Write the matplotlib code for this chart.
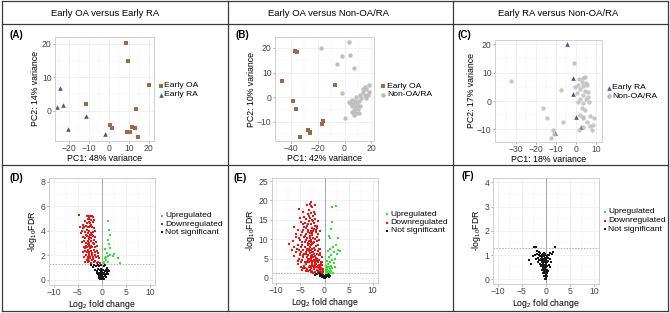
import matplotlib
matplotlib.use('Agg')
import matplotlib.pyplot as plt
from matplotlib.lines import Line2D

plt.rcParams['font.family'] = ['Liberation Sans', 'DejaVu Sans']
plt.rcParams['mathtext.fontset'] = 'custom'
plt.rcParams['mathtext.rm'] = 'Liberation Sans'
plt.rcParams['mathtext.it'] = 'Liberation Sans:italic'

# ---------------- DATA ----------------
headers = ["Early OA versus Early RA", "Early OA versus Non-OA/RA", "Early RA versus Non-OA/RA"]
panel_labels = ["(A)", "(B)", "(C)", "(D)", "(E)", "(F)"]
pca_xlabels = ["PC1: 48% variance", "PC1: 42% variance", "PC1: 18% variance"]
pca_ylabels = ["PC2: 14% variance", "PC2: 10% variance", "PC2: 17% variance"]
volcano_legend = ["Upregulated", "Downregulated", "Not significant"]

# Panel A
a_oa_x = [8.7, 9.7, 20.2, -11.5, 13.7, 0.5, 1.8, 11.7, 13.2, 9.0, 10.7, 14.8]
a_oa_y = [20.4, 15.0, 7.8, 2.0, 0.5, -4.3, -5.0, -4.7, -5.1, -6.4, -6.2, -7.7]
a_ra_x = [-24.3, -26.0, -23.0, -11.5, -20.2, -1.8]
a_ra_y = [6.8, 1.3, 1.9, -1.6, -5.4, -6.9]

# Panel B
b_oa_x = [-36.8, -35.6, -46.7, -7.4, -38.3, -36.3, -16.0, -16.8, -26.9, -25.7, -25.4, -32.8]
b_oa_y = [18.9, 18.5, 6.6, 5.0, -1.4, -4.7, -9.5, -10.9, -13.2, -13.9, -14.6, -15.9]
b_non_x = [-17.5, 3.2, -1.5, 4.2, -5.9, 6.9, -1.7, 0.5,
           18.0, 15.1, 16.3, 13.8, 18.0, 11.4, 15.1, 17.5, 8.9, 12.6, 5.2, 7.7, 10.9, 4.0,
           6.4, 9.4, 5.2, 8.4, 11.4, 6.9, 10.1, 5.2, 8.4, 7.2, 10.4, 3.0, 13.8, 15.8]
b_non_y = [19.9, 22.2, 16.8, 17.3, 13.5, 11.9, 1.6, -8.2,
           5.0, 4.1, 3.2, 2.3, 2.3, 0.9, 0.9, 0.9, 0.3, -0.4, -1.1, -1.5, -1.4, -2.2,
           -2.7, -2.7, -3.5, -4.1, -3.5, -5.1, -4.9, -5.8, -6.2, -7.2, -6.5, -1.8, 3.2, -0.4]

# Panel C
c_ra_x = [-4.3, -1.7, 0.0, 2.5, -10.5, -1.7]
c_ra_y = [20.0, 8.2, -5.5, -9.0, -11.1, 2.5]
c_non_x = [-32.7, -0.8, -7.7, -16.7, -14.7, -6.3, -11.7, -11.0, -12.5,
           1.7, 3.7, 4.5, 2.8, 5.0, 1.2, 3.3, 5.3, -0.5, 2.0, 4.5, 6.2, 0.3, 3.7, 6.2, 2.0,
           5.0, 1.2, 3.7, 6.7, 2.8, 4.5, 2.0, 3.7, 7.0, 9.0, 5.3, 3.3, 1.7, 7.0, 8.3, 7.8, 3.7]
c_non_y = [7.2, 13.5, 3.9, -2.6, -5.9, -7.3, -10.2, -11.6, -13.1,
           7.6, 8.2, 8.6, 6.8, 6.4, 5.6, 5.3, 5.6, 4.8, 4.1, 3.6, 3.3, 2.7, 2.1, 1.5, 0.9,
           0.6, -0.2, -0.8, -0.2, -2.6, -3.2, -4.9, -5.5, -5.3, -5.9, -7.3, -9.0, -10.2, -8.8, -8.4, -10.2, -6.1]

# Panel D (volcano, Early OA vs Early RA)
d_down = [(-4.7,5.3),(-3.2,5.2),(-2.9,5.25),(-2.6,5.1),(-2.4,5.2),(-2.1,5.2),(-1.8,5.15),(-2.7,4.95),(-3.0,5.0),
          (-3.5,4.8),(-2.2,4.85),(-1.9,4.7),(-2.5,4.6),(-3.1,4.6),(-2.8,4.7),(-1.6,4.9),
          (-4.5,4.3),(-4.0,4.25),(-3.7,4.3),(-3.3,4.4),(-3.0,4.3),(-2.7,4.35),(-2.4,4.4),(-2.0,4.3),(-1.7,4.2),(-3.9,4.5),(-2.2,4.5),
          (-4.2,4.0),(-3.6,3.9),(-3.2,4.05),(-2.9,3.85),(-2.6,4.0),(-2.3,3.8),(-1.9,3.9),(-1.5,4.0),(-3.4,3.7),(-4.4,3.8),
          (-3.9,3.5),(-3.5,3.45),(-3.1,3.6),(-2.8,3.5),(-2.5,3.65),(-2.2,3.4),(-1.8,3.55),(-1.4,3.5),(-2.0,3.7),(-2.7,3.3),
          (-4.1,3.1),(-3.7,3.2),(-3.3,3.05),(-3.0,3.2),(-2.6,3.0),(-2.3,3.15),(-1.9,3.05),(-1.6,3.25),(-1.2,3.1),(-2.9,2.95),
          (-3.8,2.7),(-3.4,2.8),(-3.1,2.65),(-2.8,2.75),(-2.5,2.6),(-2.2,2.8),(-2.0,2.65),(-1.7,2.9),(-1.4,2.7),(-1.0,2.8),(-2.6,2.85),(-3.6,2.6),
          (-3.9,2.3),(-3.5,2.4),(-3.2,2.25),(-2.9,2.45),(-2.6,2.3),(-2.3,2.4),(-2.0,2.2),(-1.7,2.45),(-1.4,2.3),(-1.1,2.4),(-0.8,2.2),(-2.8,2.2),
          (-3.7,1.9),(-3.3,2.0),(-3.0,1.85),(-2.7,2.05),(-2.4,1.9),(-2.1,2.0),(-1.8,1.85),(-1.5,2.05),(-1.2,1.9),(-0.9,1.95),(-0.6,1.8),(-2.5,1.8),
          (-3.6,1.5),(-3.2,1.6),(-2.9,1.45),(-2.6,1.55),(-2.3,1.4),(-2.0,1.6),(-1.7,1.45),(-1.4,1.55),(-1.1,1.4),(-0.8,1.5),(-0.5,1.4),(-3.0,1.7),(-1.9,1.7)]
d_up = [(1.15,4.8),(1.5,4.1),(1.7,3.65),(1.2,3.25),(1.4,2.9),(0.7,2.5),(1.7,2.6),(1.1,2.2),(1.15,1.95),(2.2,1.95),
        (1.6,2.0),(0.6,1.8),(3.3,1.75),(0.35,1.5),(0.9,1.6),(3.7,1.4),(0.5,1.35),(1.3,1.45),(2.5,2.1),(0.8,1.9)]
d_ns = [(-2.3,1.25),(-1.9,1.05),(-1.6,1.2),(-1.2,1.1),(-0.9,1.25),(-0.6,1.15),(-0.3,1.2),(0.4,1.1),(0.7,1.2),(1.0,1.0),
        (0.9,0.8),(1.3,0.85),(1.1,0.65),(0.6,0.7),(0.3,0.8),(-0.2,0.9),(-0.5,0.85),(-0.8,0.9),(-1.1,0.75),(-1.4,0.8),
        (-0.7,0.6),(-0.4,0.55),(-0.1,0.6),(0.2,0.5),(0.5,0.45),(0.8,0.5),(-0.9,0.45),(-0.6,0.35),(-0.3,0.3),(0.0,0.35),
        (0.3,0.25),(0.6,0.3),(-0.2,0.15),(0.1,0.1),(0.0,0.05),(-0.1,0.2),(0.2,0.15),(-0.4,0.1),(0.4,0.1),(-0.5,0.45),
        (-0.2,0.4),(0.1,0.45),(0.0,0.7),(-0.3,0.65),(0.35,0.6),(1.5,0.7),(1.2,0.45),(-1.0,0.55),(0.9,0.25),(-0.7,0.2)]

# Panel E (volcano, Early OA vs Non-OA/RA)
e_down = [(-2.7,19.5),(-2.9,18.6),(-2.5,18.2),(-5.2,17.9),(-3.2,17.5),(-2.2,17.0),(-2.8,16.8),
          (-3.5,16.5),(-4.3,15.8),(-2.4,16.0),(-3.0,15.5),(-1.9,15.3),(-3.8,15.2),(-2.6,15.0),
          (-4.8,14.5),(-3.3,14.6),(-2.1,14.2),(-2.9,13.8),(-3.7,13.5),(-1.6,13.3),(-4.2,13.2),(-2.5,13.0),
          (-5.6,12.3),(-4.5,12.5),(-3.5,12.4),(-2.8,12.1),(-2.2,12.6),(-1.8,11.8),(-3.1,11.5),(-3.9,11.3),(-2.5,11.2),(-4.9,11.0),(-1.4,11.4),
          (-6.0,10.5),(-4.3,10.6),(-3.6,10.2),(-3.0,10.8),(-2.4,10.3),(-1.9,10.0),(-3.3,9.6),(-2.7,9.4),(-4.0,9.3),(-5.0,9.8),(-1.5,9.5),(-2.1,9.2),(-3.8,9.9),
          (-7.3,8.8),(-6.3,8.0),(-5.5,8.5),(-4.6,8.6),(-4.1,7.9),(-3.5,8.4),(-3.0,8.1),(-2.6,8.7),(-2.2,7.8),(-1.7,8.3),(-1.2,7.6),(-3.2,7.4),(-2.8,7.2),(-4.4,7.3),(-1.9,7.1),(-3.7,7.6),
          (-5.9,6.6),(-5.1,5.9),(-4.8,6.8),(-4.2,6.2),(-3.8,6.7),(-3.4,5.8),(-3.0,6.4),(-2.6,6.0),(-2.3,6.8),(-2.0,5.6),(-1.6,6.3),(-1.2,5.9),(-0.9,6.5),(-3.6,5.3),(-2.8,5.2),(-4.5,5.5),(-1.8,5.1),(-2.5,6.6),
          (-5.5,4.4),(-4.6,4.7),(-4.0,4.2),(-3.5,4.8),(-3.2,4.0),(-2.9,4.5),(-2.6,3.8),(-2.3,4.3),(-2.0,3.6),(-1.7,4.6),(-1.4,4.0),(-1.1,3.4),(-0.8,4.2),(-3.8,3.5),(-3.0,3.2),(-2.4,3.0),(-1.9,3.1),(-1.3,3.0),(-0.6,3.3),(-4.3,3.1),(-2.7,4.9),
          (-4.1,2.5),(-3.6,2.2),(-3.3,2.8),(-3.0,2.0),(-2.7,2.6),(-2.5,1.8),(-2.2,2.4),(-2.0,1.6),(-1.8,2.8),(-1.6,2.1),(-1.4,1.5),(-1.2,2.5),(-1.0,1.9),(-0.8,1.5),(-0.6,2.3),(-0.4,1.7),(-2.9,1.5),(-3.4,1.7),(-2.3,1.4),(-1.5,2.9),
          (-3.4,11.9),(-2.6,11.6),(-3.1,10.4),(-2.8,9.9),(-3.5,9.1),(-2.3,8.9),(-3.3,8.7),(-2.9,8.4),(-2.5,7.5),(-3.6,7.1),(-2.1,6.3),(-3.2,6.9),(-2.7,5.6),(-3.9,6.1),(-2.4,5.4),(-3.1,5.0),(-2.2,4.6),(-3.4,4.4),(-1.9,4.1),(-2.6,3.4),(-3.7,4.0),(-2.1,2.7),(-2.8,3.0),(-1.7,3.5),(-1.1,2.8),(-0.9,2.1),(-1.3,1.8),(-0.5,1.4),(-4.0,10.9),(-3.9,12.8),(-2.3,14.8),(-3.5,13.9),(-1.7,12.4),(-4.6,9.4),(-5.2,7.2),(-1.4,6.9),(-1.1,4.7),(-0.7,2.7),
          (-5.4,3.6),(-4.9,2.9),(-4.6,2.1),(-4.4,5.9),(-5.0,6.2),(-5.7,7.6),(-6.6,9.6),(-5.3,10.2),(-4.7,11.9),(-4.1,14.1),(-4.4,16.9),(-3.6,18.9),(-1.3,8.6),(-0.9,7.4),(-0.6,5.5),(-0.5,4.1),(-0.9,5.9),(-1.2,9.9),(-1.6,10.7),(-1.0,12.1),(-1.3,14.8),(-1.9,16.4),(-2.0,18.8),(-3.0,19.0),(-0.4,2.2),(-0.3,1.5),(-0.7,3.6),(-1.6,4.4),(-1.0,3.0),(-4.9,8.0),(-4.8,4.0),(-4.4,2.6),(-3.9,1.9),(-5.2,5.0),(-6.3,5.7),(-6.8,7.1),(-5.9,11.4),(-6.4,13.1),(-5.0,15.6),(-3.3,16.0),(-1.5,4.9),(-2.0,13.5),(-2.4,12.0),(-1.5,12.9),(-4.5,13.8)]
e_up = [(1.6,18.4),(2.4,18.6),(1.5,14.5),(1.3,12.7),(0.9,10.9),(1.1,10.2),(2.7,10.2),(2.3,8.5),(1.7,8.0),(2.9,7.3),
        (1.2,7.6),(0.8,6.9),(1.9,6.6),(2.5,6.2),(1.4,5.8),(0.9,5.3),(2.1,5.0),(1.6,4.6),(0.6,4.4),(1.1,4.0),
        (2.0,3.9),(0.7,3.5),(1.3,3.2),(0.4,3.0),(0.9,2.8),(1.6,2.6),(0.5,2.4),(1.1,2.2),(0.3,2.0),(0.7,1.9),
        (1.4,1.7),(0.4,1.6),(0.9,1.5),(1.7,1.4),(0.6,1.35),(2.2,2.8),(1.2,1.4),(3.2,7.0),(0.5,2.9)]
e_ns = [(-1.2,1.2),(-0.9,1.0),(-0.6,1.1),(-0.4,0.8),(-0.2,0.6),(0.0,0.4),(0.2,0.5),(0.4,0.8),(0.6,1.0),(0.8,1.2),
        (-0.7,0.7),(-0.1,0.2),(0.1,0.1),(-0.3,0.3),(0.3,0.3),(0.5,0.6),(-0.5,0.5),(-0.8,0.4),(0.7,0.5),(-1.5,0.9),
        (1.0,0.8),(-1.0,0.6),(0.0,0.0),(-0.2,0.1),(0.2,0.2),(0.9,0.3),(-0.6,0.2),(1.2,0.6),(-1.8,1.1),(-2.0,0.8)]

# Panel F (volcano, Early RA vs Non-OA/RA)
f_ns = [(-2.5,1.32),(-2.1,1.32),(1.8,1.32),(-3.2,0.65),(-3.5,0.78),(-2.6,0.95),(-1.9,1.05),(-1.5,1.0),(-1.2,1.08),(-0.9,0.98),
        (-0.6,1.05),(-0.3,1.0),(0.2,0.95),(0.6,1.02),(0.9,1.1),(1.2,1.05),(0.8,0.85),(1.0,0.7),(-2.0,0.85),(-1.7,0.9),
        (-1.4,0.8),(-1.1,0.85),(-0.8,0.9),(-0.5,0.85),(-0.2,0.88),(0.1,0.8),(0.4,0.75),(0.6,0.6),(-1.6,0.7),(-1.2,0.65),
        (-0.9,0.7),(-0.6,0.72),(-0.3,0.7),(0.0,0.65),(0.3,0.55),(-1.0,0.55),(-0.7,0.5),(-0.4,0.55),(-0.1,0.5),(0.2,0.4),
        (0.4,0.35),(-0.8,0.4),(-0.5,0.38),(-0.2,0.4),(0.1,0.3),(-0.6,0.25),(-0.3,0.25),(0.0,0.2),(0.2,0.15),(-0.4,0.12),
        (-0.1,0.1),(0.05,0.05),(-0.2,0.02),(0.1,0.0),(-0.5,0.6),(-0.3,0.45),(-0.15,0.35),(-0.25,0.15),(0.15,0.25),(-0.45,0.3),
        (-0.7,0.8),(-0.4,0.95),(-0.1,0.75),(0.25,0.7),(-0.55,0.65),(-0.35,0.8),(-0.05,0.58),(-0.65,0.45),(-1.3,0.95),(1.4,1.12),
        (-1.8,1.18),(-2.3,1.0),(0.5,0.9),(0.75,0.5),(-0.85,0.6),(-1.05,0.78),(0.0,0.9),(-0.2,1.05),(-0.45,1.1),(0.35,1.0),
        (-1.5,1.12),(-0.75,1.0)]

fdr_threshold = 1.3

# ---------------- STYLE ----------------
W, H = 670, 313
fig = plt.figure(figsize=(W / 100, H / 100), dpi=100)

C_OA = '#9A6A4C'
C_RA = '#55557F'
C_NON = '#BEBEBE'
C_UP = '#2EE62E'
C_DOWN = '#F01010'
C_NS = '#1A1A1A'
LINE = '#3A3A3A'


def fline(x1, y1, x2, y2):
    fig.add_artist(Line2D([x1 / W, x2 / W], [1 - y1 / H, 1 - y2 / H], color=LINE, lw=0.9,
                          transform=fig.transFigure))

# table grid
fline(2, 1, 668, 1)
fline(2, 311, 668, 311)
fline(2, 1, 2, 311)
fline(668, 1, 668, 311)
fline(2, 24, 668, 24)
fline(2, 165, 668, 165)
fline(228, 1, 228, 311)
fline(453, 1, 453, 311)

for txt, cx in zip(headers, [105, 328, 558]):
    fig.text(cx / W, 1 - 13.5 / H, txt, ha='center', va='center', fontsize=6.8)

for lab, (px, py) in zip(panel_labels, [(10, 35), (235, 35), (457, 35), (9, 178), (233, 178), (461, 176)]):
    fig.text(px / W, 1 - py / H, lab, ha='left', va='center', fontsize=7, fontweight='bold')


def add_ax(l, r, t, b):
    return fig.add_axes([l / W, 1 - b / H, (r - l) / W, (b - t) / H])


def style(ax, xlim, ylim, xt, yt, xm, ym, xlabel, ylabel):
    ax.set_xlim(*xlim)
    ax.set_ylim(*ylim)
    ax.set_xticks(xt)
    ax.set_yticks(yt)
    ax.set_xticks(xm, minor=True)
    ax.set_yticks(ym, minor=True)
    ax.grid(True, which='major', color='#EBEBEB', lw=0.5)
    ax.grid(True, which='minor', color='#F4F4F4', lw=0.3)
    ax.set_axisbelow(True)
    for s in ax.spines.values():
        s.set_color('#CFCFCF')
        s.set_linewidth(0.7)
    ax.tick_params(which='major', length=1.5, width=0.5, color='#888888', labelsize=6.2,
                   labelcolor='#444444', pad=1)
    ax.tick_params(which='minor', length=0)
    ax.set_xlabel(xlabel, fontsize=6.3, labelpad=0.5)
    ax.set_ylabel(ylabel, fontsize=6.3, labelpad=1)


def legend(xm, xt, ys, markers, colors, labels, ms):
    for y, m, c, lab in zip(ys, markers, colors, labels):
        fig.add_artist(Line2D([xm / W], [1 - y / H], marker=m, color=c, ms=ms, ls='none', mew=0,
                              transform=fig.transFigure))
        fig.text(xt / W, 1 - y / H, lab, ha='left', va='center', fontsize=6.1)

# ---- PCA panels ----
PS = 10
ax = add_ax(55, 154, 37.3, 140.7)
style(ax, (-26.9, 22.6), (-8.9, 22.0), [-20, -10, 0, 10, 20], [0, 10, 20],
      [-25, -15, -5, 5, 15], [-5, 5, 15], pca_xlabels[0], pca_ylabels[0])
ax.scatter(a_oa_x, a_oa_y, marker='s', s=PS, color=C_OA, lw=0)
ax.scatter(a_ra_x, a_ra_y, marker='^', s=PS + 1, color=C_RA, lw=0)
legend(160.7, 164, [85.5, 94.5], ['s', '^'], [C_OA, C_RA], ['Early OA', 'Early RA'], 3.3)

ax = add_ax(275, 374, 37.3, 141)
style(ax, (-51.6, 21.9), (-17.7, 24.3), [-40, -20, 0, 20], [-10, 0, 10, 20],
      [-50, -30, -10, 10], [-15, -5, 5, 15], pca_xlabels[1], pca_ylabels[1])
ax.scatter(b_non_x, b_non_y, marker='o', s=PS, color=C_NON, lw=0)
ax.scatter(b_oa_x, b_oa_y, marker='s', s=PS, color=C_OA, lw=0)
legend(383, 387, [86, 94.5], ['s', 'o'], [C_OA, C_NON], ['Early OA', 'Non-OA/RA'], 3.3)

ax = add_ax(495, 602, 40, 141.7)
style(ax, (-40.5, 13.0), (-14.3, 21.5), [-30, -20, -10, 0, 10], [-10, 0, 10, 20],
      [-35, -25, -15, -5, 5], [-5, 5, 15], pca_xlabels[2], pca_ylabels[2])
ax.scatter(c_ra_x, c_ra_y, marker='^', s=PS + 1, color=C_RA, lw=0)
ax.scatter(c_non_x, c_non_y, marker='o', s=PS, color=C_NON, lw=0, alpha=0.85)
legend(609, 612.5, [87.7, 96], ['^', 'o'], [C_RA, C_NON], ['Early RA', 'Non-OA/RA'], 3.3)

# ---- Volcano panels ----
VS = 1.6
vx_label = r'Log$_2$ fold change'
vy_label = r'-log$_{10}$FDR'


def volcano(ax, up, down, ns, ylim, yt, ym):
    style(ax, (-11, 11), ylim, [-10, -5, 0, 5, 10], yt, [-7.5, -2.5, 2.5, 7.5], ym, vx_label, vy_label)
    ax.axvline(0, color='#999999', lw=0.6, zorder=1)
    ax.axhline(fdr_threshold, color='#AAAAAA', lw=0.6, ls=(0, (2, 1.5)), zorder=1)
    if ns:
        ax.scatter([p[0] for p in ns], [p[1] for p in ns], marker='s', s=VS, color=C_NS, lw=0, zorder=2)
    if down:
        ax.scatter([p[0] for p in down], [p[1] for p in down], marker='s', s=VS, color=C_DOWN, lw=0, zorder=2)
    if up:
        ax.scatter([p[0] for p in up], [p[1] for p in up], marker='s', s=VS, color=C_UP, lw=0, zorder=2)

ax = add_ax(49, 155, 177.7, 285)
volcano(ax, d_up, d_down, d_ns, (-0.41, 8.33), [0, 2, 4, 6, 8], [1, 3, 5, 7])
legend(161.7, 165, [215.7, 224, 232.3], ['s', 's', 's'], [C_UP, C_DOWN, C_NS], volcano_legend, 1.8)

ax = add_ax(271.5, 377.5, 178, 283)
volcano(ax, e_up, e_down, e_ns, (-1.3, 25.8), [0, 5, 10, 15, 20, 25], [2.5, 7.5, 12.5, 17.5, 22.5])
legend(386.7, 390.5, [214.3, 222.7, 231], ['s', 's', 's'], [C_UP, C_DOWN, C_NS], volcano_legend, 1.8)

ax = add_ax(493, 599, 177.5, 284)
volcano(ax, [], [], f_ns, (-0.19, 4.2), [0, 1, 2, 3, 4], [0.5, 1.5, 2.5, 3.5])
legend(605, 608, [211.7, 220.5, 229.3], ['s', 's', 's'], [C_UP, C_DOWN, C_NS], volcano_legend, 1.8)

fig.savefig('out.png', dpi=100)
